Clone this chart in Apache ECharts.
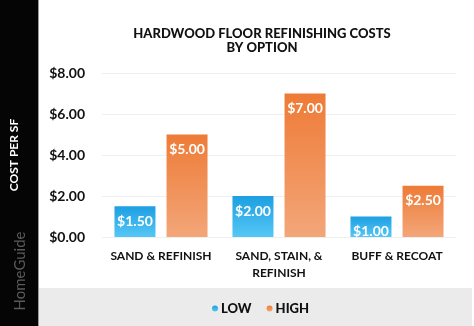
<!DOCTYPE html>
<html>
<head>
<meta charset="utf-8">
<script src="https://cdn.jsdelivr.net/npm/echarts@6/dist/echarts.min.js"></script>
<style>
  html, body { margin: 0; padding: 0; background: #ffffff; }
  #chart { width: 474px; height: 326px; }
</style>
</head>
<body>
<div id="chart"></div>
<script>
// Refinishing cost per square foot, by option
const categories = ['SAND & REFINISH', 'SAND, STAIN, &\nREFINISH', 'BUFF & RECOAT'];
const lowValues = [1.50, 2.00, 1.00];
const highValues = [5.00, 7.00, 2.50];
const seriesNames = ['LOW', 'HIGH'];

const FONT = 'Lato, "DejaVu Sans", sans-serif';

const chart = echarts.init(document.getElementById('chart'), null, { renderer: 'canvas' });

function grad(top, bottom) {
  return new echarts.graphic.LinearGradient(0, 0, 0, 1, [
    { offset: 0, color: top },
    { offset: 1, color: bottom }
  ]);
}

const valueLabel = {
  show: true,
  position: 'insideTop',
  distance: 8,
  color: '#ffffff',
  fontFamily: FONT,
  fontWeight: 'bold',
  fontSize: 14,
  formatter: p => '$' + p.value.toFixed(2)
};

chart.setOption({
  backgroundColor: '#ffffff',
  animation: false,
  title: {
    text: 'HARDWOOD FLOOR REFINISHING COSTS\nBY OPTION',
    left: 257,
    top: 22,
    textAlign: 'center',
    textStyle: {
      fontFamily: FONT,
      fontWeight: 900,
      fontSize: 13,
      lineHeight: 14,
      color: '#111111'
    }
  },
  graphic: [
    // dark side strip
    { type: 'rect', left: 0, top: 0, shape: { width: 38, height: 326 }, style: { fill: '#050505' }, z: -10 },
    { type: 'rect', left: 38, top: 0, shape: { width: 1, height: 326 }, style: { fill: '#9a9a9a' }, z: -10 },
    // legend band
    { type: 'rect', left: 39, top: 288, shape: { width: 433, height: 38 }, style: { fill: '#ebebeb' }, z: -10 },
    {
      type: 'text',
      x: 20, y: 271,
      rotation: Math.PI / 2,
      style: {
        text: 'HomeGuide',
        fill: '#5a5a5a',
        font: '15px ' + FONT,
        align: 'center',
        verticalAlign: 'middle'
      },
      z: 10
    }
  ],
  legend: {
    data: seriesNames,
    left: 207,
    top: 297,
    icon: 'circle',
    itemWidth: 6,
    itemHeight: 6,
    itemGap: 15,
    textStyle: {
      fontFamily: FONT,
      fontWeight: 900,
      fontSize: 13,
      color: '#111111',
      padding: [0, 0, 0, -2]
    }
  },
  grid: { left: 101, right: 18, top: 73, bottom: 89 },
  xAxis: {
    type: 'category',
    data: categories,
    axisLine: { show: false },
    axisTick: { show: false },
    axisLabel: {
      margin: 11,
      fontFamily: FONT,
      fontWeight: 'bold',
      fontSize: 12,
      lineHeight: 17,
      color: '#111111',
      interval: 0
    }
  },
  yAxis: {
    type: 'value',
    min: 0,
    max: 8,
    interval: 2,
    name: 'COST PER SF',
    nameLocation: 'middle',
    nameRotate: 90,
    nameGap: 82,
    nameTextStyle: {
      color: '#ffffff',
      fontFamily: FONT,
      fontWeight: 'bold',
      fontSize: 12
    },
    axisLine: { show: false },
    axisTick: { show: false },
    splitLine: { lineStyle: { color: '#efefef', width: 1 } },
    axisLabel: {
      margin: 17,
      fontFamily: FONT,
      fontWeight: 'bold',
      fontSize: 14,
      color: '#111111',
      formatter: v => '$' + v.toFixed(2)
    }
  },
  series: [
    {
      name: seriesNames[0],
      type: 'bar',
      data: lowValues,
      barWidth: 41,
      barGap: '27%',
      itemStyle: { color: grad('#1d9fe2', '#55c7f5') },
      label: valueLabel
    },
    {
      name: seriesNames[1],
      type: 'bar',
      data: highValues,
      barWidth: 41,
      itemStyle: { color: grad('#ee7b37', '#f3a679') },
      label: valueLabel
    }
  ],
  color: ['#2fb0e6', '#f0955a']
});
</script>
</body>
</html>
